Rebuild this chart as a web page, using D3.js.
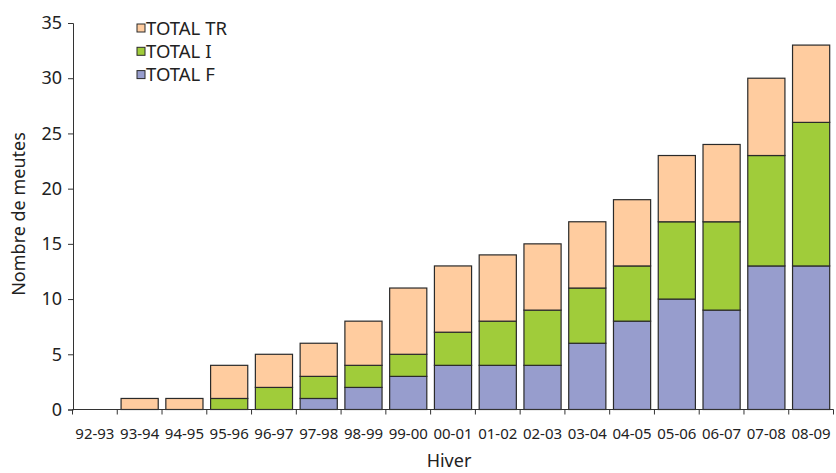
<!DOCTYPE html>
<html><head><meta charset="utf-8">
<script src="https://cdn.jsdelivr.net/npm/d3@7"></script>
<style>body{margin:0;background:#fff}svg{display:block}text{font-family:"Noto Sans",sans-serif;fill:#222}</style>
</head><body><svg id="c" width="836" height="473"></svg>
<script>
const categories = ["92-93","93-94","94-95","95-96","96-97","97-98","98-99","99-00","00-01","01-02","02-03","03-04","04-05","05-06","06-07","07-08","08-09"];
const totalF  = [0,0,0,0,0,1,2,3,4,4,4,6,8,10,9,13,13];
const totalI  = [0,0,0,1,2,2,2,2,3,4,5,5,5,7,8,10,13];
const totalTR = [0,1,1,3,3,3,4,6,6,6,6,6,6,6,7,7,7];
const seriesNames = ["TOTAL F","TOTAL I","TOTAL TR"];
const colors = ["#979dcd","#a0cc3a","#ffcc9f"];
const yTicks = [0,5,10,15,20,25,30,35];

const svg = d3.select("#c");
const x = d3.scaleBand().domain(categories).range([72.5, 833.5]).paddingInner(0.17).paddingOuter(0.085);
const y = d3.scaleLinear().domain([0,35]).range([409.5, 23]);

const table = categories.map((c,i)=>({cat:c,"TOTAL F":totalF[i],"TOTAL I":totalI[i],"TOTAL TR":totalTR[i]}));
const stack = d3.stack().keys(seriesNames)(table);

stack.forEach((s,si)=>{
  svg.append("g").selectAll("rect").data(s.filter(d=>d[1]-d[0]>0)).join("rect")
    .attr("x", d=>x(d.data.cat)).attr("width", x.bandwidth())
    .attr("y", d=>y(d[1])).attr("height", d=>y(d[0])-y(d[1]))
    .attr("fill", colors[si]).attr("stroke","#2a2a2a").attr("stroke-width",1.2);
});

// y axis
const ya = svg.append("g").attr("transform","translate(73,0)")
  .call(d3.axisLeft(y).tickValues(yTicks).tickSize(5).tickPadding(6));
ya.selectAll("text").style("font-size","18px");
ya.select(".domain").attr("stroke","#333");
ya.selectAll(".tick line").attr("stroke","#333");

// x axis with ticks at band boundaries
const xa = svg.append("g").attr("transform","translate(0,409.5)");
xa.append("line").attr("x1",72.5).attr("x2",833.5).attr("y1",0).attr("y2",0).attr("stroke","#333");
const bounds = d3.range(categories.length+1).map(i=>72.5 + i*(761/categories.length));
xa.selectAll("line.t").data(bounds).join("line").attr("class","t")
  .attr("x1",d=>d).attr("x2",d=>d).attr("y1",0).attr("y2",5).attr("stroke","#333");
xa.selectAll("text").data(categories).join("text")
  .attr("x",d=>x(d)+x.bandwidth()/2).attr("y",29.5)
  .attr("text-anchor","middle").style("font-size","15px").text(d=>d);

svg.append("text").attr("x",449).attr("y",467).attr("text-anchor","middle").style("font-size","18px").text("Hiver");
svg.append("text").attr("transform","translate(24.5,214) rotate(-90)").attr("text-anchor","middle").style("font-size","18px").text("Nombre de meutes");

// legend
const leg = [ {n:"TOTAL TR",c:colors[2]}, {n:"TOTAL I",c:colors[1]}, {n:"TOTAL F",c:colors[0]} ];
const lg = svg.append("g");
leg.forEach((d,i)=>{
  const cy = 28 + i*23.3;
  lg.append("rect").attr("x",137).attr("y",cy-4).attr("width",8).attr("height",8)
    .attr("fill",d.c).attr("stroke","#2a2a2a").attr("stroke-width",1);
  lg.append("text").attr("x",146).attr("y",cy+6.8).style("font-size","18.5px").text(d.n);
});
</script></body></html>
